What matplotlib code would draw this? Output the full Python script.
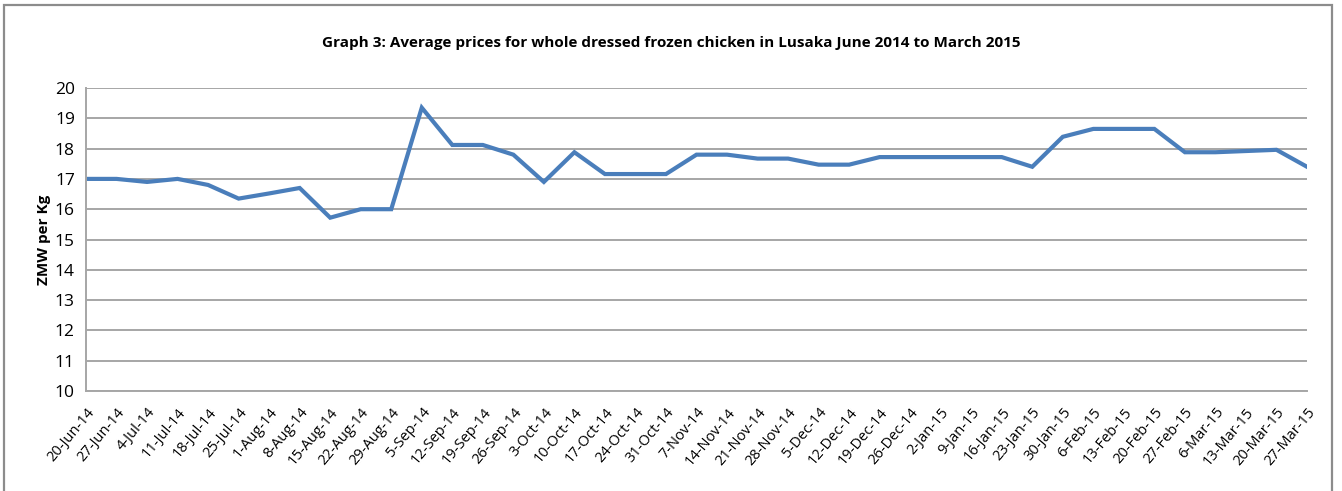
import matplotlib
matplotlib.use("Agg")
import matplotlib.pyplot as plt
from matplotlib import font_manager
from matplotlib.patches import Rectangle

dates = ["20-Jun-14", "27-Jun-14", "4-Jul-14", "11-Jul-14", "18-Jul-14", "25-Jul-14",
         "1-Aug-14", "8-Aug-14", "15-Aug-14", "22-Aug-14", "29-Aug-14", "5-Sep-14",
         "12-Sep-14", "19-Sep-14", "26-Sep-14", "3-Oct-14", "10-Oct-14", "17-Oct-14",
         "24-Oct-14", "31-Oct-14", "7-Nov-14", "14-Nov-14", "21-Nov-14", "28-Nov-14",
         "5-Dec-14", "12-Dec-14", "19-Dec-14", "26-Dec-14", "2-Jan-15", "9-Jan-15",
         "16-Jan-15", "23-Jan-15", "30-Jan-15", "6-Feb-15", "13-Feb-15", "20-Feb-15",
         "27-Feb-15", "6-Mar-15", "13-Mar-15", "20-Mar-15", "27-Mar-15"]
prices = [17.0, 17.0, 16.9, 17.0, 16.8, 16.35,
          16.52, 16.7, 15.72, 16.0, 16.0, 19.35,
          18.12, 18.12, 17.8, 16.9, 17.88, 17.16,
          17.16, 17.16, 17.8, 17.8, 17.67, 17.67,
          17.47, 17.47, 17.72, 17.72, 17.72, 17.72,
          17.72, 17.4, 18.39, 18.65, 18.65, 18.65,
          17.88, 17.88, 17.92, 17.96, 17.4]
yticks = list(range(10, 21))

available = {f.name for f in font_manager.fontManager.ttflist}
fam = "DejaVu Sans"
for cand in ["Liberation Sans Narrow", "Open Sans", "Liberation Sans"]:
    if cand in available:
        fam = cand
        break
plt.rcParams["font.family"] = [fam, "DejaVu Sans"]

W, H = 1342, 491
fig = plt.figure(figsize=(W / 100, H / 100), dpi=100)
fig.patch.set_facecolor("white")

# outer chart frame
fig.patches.append(Rectangle((4 / W, -0.05), (1332 - 4) / W, 1.05 - 5 / H,
                             transform=fig.transFigure, fill=False,
                             edgecolor="#8c8c8c", linewidth=1.6))

ax = fig.add_axes([86 / W, 1 - 391 / H, (1307 - 86) / W, (391 - 88) / H])
x = list(range(len(dates)))
ax.plot(x, prices, color="#4a7ebb", linewidth=3.0, solid_joinstyle="miter")
ax.set_xlim(0, len(dates) - 1)
ax.set_ylim(10, 20)
ax.set_yticks(yticks)
ax.set_yticklabels([str(v) for v in yticks], fontsize=12.5)
ax.set_xticks(x)
ax.set_xticklabels(dates, rotation=50, ha="right", va="top", fontsize=10.5,
                   rotation_mode="anchor")
ax.tick_params(axis="both", length=0, pad=8)
ax.tick_params(axis="x", pad=10)
ax.yaxis.grid(True, color="#a6a6a6", linewidth=1.4)
ax.set_axisbelow(True)
for s in ["top", "right"]:
    ax.spines[s].set_visible(False)
for s in ["left", "bottom"]:
    ax.spines[s].set_color("#a6a6a6")
    ax.spines[s].set_linewidth(1.4)
ax.set_ylabel("ZMW per Kg", fontsize=11, fontweight="bold", labelpad=3)

fig.text(671 / W, 1 - 43 / H,
         "Graph 3: Average prices for whole dressed frozen chicken in Lusaka June 2014 to March 2015",
         ha="center", va="center", fontsize=11, fontweight="bold")

fig.savefig("out.png", dpi=100)
